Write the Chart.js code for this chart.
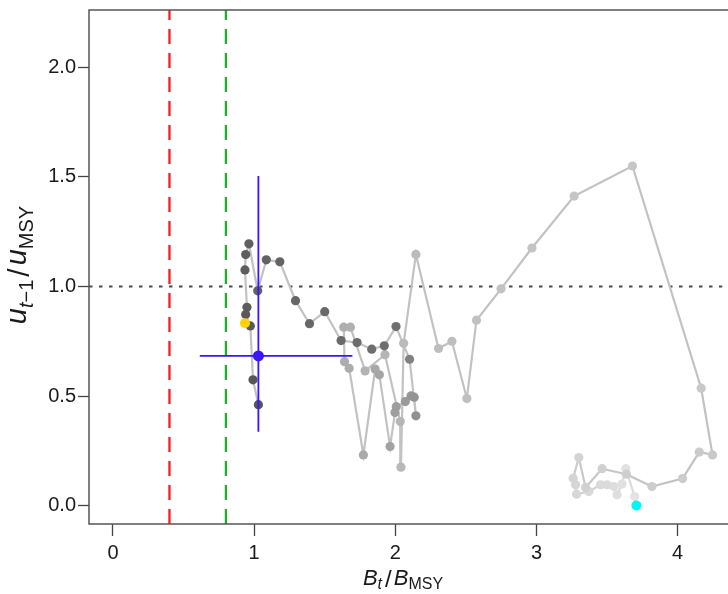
<!DOCTYPE html>
<html>
<head>
<meta charset="utf-8">
<script src="https://cdn.jsdelivr.net/npm/chart.js@4.4.0/dist/chart.umd.min.js"></script>
<style>
  html, body { margin:0; padding:0; background:#fff; overflow:hidden; }
  #wrap { width:728px; height:594px; }
</style>
</head>
<body>
<div id="wrap"><canvas id="kobe" width="728" height="594"></canvas></div>
<script>
// --- Trajectory (first year -> last year) ---
const bRatio = [
  3.708, 3.696, 3.633, 3.606, 3.571, 3.548, 3.500, 3.454, 3.371, 3.284,
  3.277, 3.260, 3.300, 3.348, 3.465, 3.637, 3.818, 4.035, 4.153, 4.247,
  4.167, 3.680, 3.267, 2.968, 2.749, 2.575, 2.507, 2.401, 2.306, 2.146,
  2.059, 2.040, 2.035, 1.927, 1.786, 1.682, 1.635, 1.640, 1.673, 1.774,
  1.857, 1.887, 1.963, 1.998, 2.007, 2.071, 2.111, 2.134, 2.146, 2.101,
  2.005, 1.922, 1.833, 1.729, 1.616, 1.500, 1.392, 1.293, 1.182, 1.086,
  1.025, 0.963, 0.940, 0.935, 0.949, 0.940, 0.973, 0.992, 1.030
];
const uRatio = [
  0.001, 0.042, 0.169, 0.099, 0.050, 0.088, 0.096, 0.096, 0.065, 0.053,
  0.096, 0.126, 0.220, 0.083, 0.169, 0.144, 0.088, 0.124, 0.245, 0.232,
  0.536, 1.549, 1.412, 1.175, 0.989, 0.846, 0.489, 0.750, 0.717, 1.146,
  0.741, 0.176, 0.384, 0.689, 0.615, 0.814, 0.814, 0.657, 0.627, 0.232,
  0.623, 0.597, 0.270, 0.425, 0.452, 0.475, 0.501, 0.495, 0.410, 0.668,
  0.817, 0.729, 0.714, 0.744, 0.753, 0.885, 0.830, 0.935, 1.112, 1.121,
  0.980, 1.194, 1.145, 1.075, 0.905, 0.872, 0.820, 0.574, 0.461
];

// first year (cyan) and final year (yellow) markers
const startPt = [3.708, 0.001];
const endPt = [0.935, 0.832];

// median with 95% intervals
const medB = 1.030, medU = 0.683;
const bInterval = [0.615, 1.696];
const uInterval = [0.337, 1.503];

// reference points: LRP (0.4 Bmsy), USR (0.8 Bmsy), u = umsy
const lrp = 0.4;
const usr = 0.8;
const uRef = 1.0;

const xTicks = [0, 1, 2, 3, 4];
const yTicks = [0, 0.5, 1, 1.5, 2];
const xLim = [-0.17, 4.318];
const yLim = [-0.083, 2.26];

// --- Styling helpers ---
const FONT = "'Liberation Sans', Arial, Helvetica, sans-serif";
const greyStops = [[0,228],[16,205],[30,186],[40,168],[48,145],[50,112],[68,86]];
function greyAt(i){
  for (let k=1; k<greyStops.length; k++){
    const [i1,g1] = greyStops[k], [i0,g0] = greyStops[k-1];
    if (i <= i1){ const t=(i-i0)/(i1-i0); return Math.round(g0 + t*(g1-g0)); }
  }
  return greyStops[greyStops.length-1][1];
}
const grey = g => `rgb(${g},${g},${g})`;
const pointCols = bRatio.map((_, i) => grey(greyAt(i)));
const segCol = i => grey(i < 16 ? Math.round(222 - (222-194)*i/16) : 194);

const trajectory = bRatio.map((b, i) => ({ x:b, y:uRatio[i] }));

function refLine(data, color, dash, width){
  return { type:'scatter', data, showLine:true, borderColor:color, borderWidth:width,
           borderDash:dash, pointRadius:0, pointHoverRadius:0, fill:false, tension:0 };
}

// --- Axis box + math titles ---
function drawRich(ctx, parts, cx, cy, rotate){
  ctx.save();
  ctx.translate(cx, cy);
  if (rotate) ctx.rotate(-Math.PI/2);
  let total = 0;
  parts.forEach(p => { ctx.font = p.font; p.w = ctx.measureText(p.t).width + (p.gap||0); total += p.w; });
  let x = -total/2;
  ctx.fillStyle = '#1a1a1a'; ctx.textAlign = 'left'; ctx.textBaseline = 'alphabetic';
  parts.forEach(p => { ctx.font = p.font; ctx.fillText(p.t, x, p.dy||0); x += p.w; });
  ctx.restore();
}

const framePlugin = {
  id:'frame',
  afterDraw(chart){
    const { ctx, chartArea:a } = chart;
    ctx.save();
    ctx.strokeStyle = '#555'; ctx.lineWidth = 1.5;
    ctx.beginPath();
    ctx.moveTo(chart.width + 5, a.top); ctx.lineTo(a.left, a.top);
    ctx.lineTo(a.left, a.bottom); ctx.lineTo(chart.width + 5, a.bottom);
    ctx.stroke();
    ctx.restore();

    const it = s => `italic ${s}px ${FONT}`, up = s => `${s}px ${FONT}`;
    drawRich(ctx, [
      { t:'B', font:it(22) },
      { t:'t', font:it(16), dy:4, gap:3 },
      { t:'/', font:up(24), dy:2, gap:2 },
      { t:'B', font:it(22) },
      { t:'MSY', font:up(16), dy:4 }
    ], 403, 585, false);
    drawRich(ctx, [
      { t:'u', font:it(29) },
      { t:'t', font:it(20), dy:7 },
      { t:'\u22121', font:up(20), dy:7, gap:3 },
      { t:'/', font:up(30), dy:3, gap:3 },
      { t:'u', font:it(29) },
      { t:'MSY', font:up(20), dy:7 }
    ], 26, 265, true);
  }
};

new Chart(document.getElementById('kobe'), {
  data: {
    datasets: [
      // blue median + intervals (on top)
      { type:'scatter', data:[{x:medB, y:medU}], pointRadius:5.5, pointBackgroundColor:'#3a14ff', pointBorderWidth:0 },
      refLine([{x:bInterval[0], y:medU},{x:bInterval[1], y:medU}], '#3a14ff', [], 1.8),
      refLine([{x:medB, y:uInterval[0]},{x:medB, y:uInterval[1]}], '#3a14ff', [], 1.8),
      // final year and first year markers
      { type:'scatter', data:[{x:endPt[0], y:endPt[1]}], pointRadius:5, pointBackgroundColor:'#ffd200', pointBorderWidth:0 },
      { type:'scatter', data:[{x:startPt[0], y:startPt[1]}], pointRadius:5, pointBackgroundColor:'#00f5f5', pointBorderWidth:0 },
      // trajectory
      { type:'scatter', data:trajectory, showLine:true, tension:0, borderWidth:2.2,
        borderColor:'#c2c2c2', segment:{ borderColor: c => segCol(c.p0DataIndex) },
        pointRadius:4.6, pointBackgroundColor:pointCols, pointBorderWidth:0, clip:false },
      // reference lines (underneath)
      refLine([{x:xLim[0], y:uRef},{x:xLim[1], y:uRef}], '#4a4a4a', [3.5, 6.5], 2),
      refLine([{x:lrp, y:yLim[0]},{x:lrp, y:yLim[1]}], '#ff1a1a', [15, 9], 2.3),
      refLine([{x:usr, y:yLim[0]},{x:usr, y:yLim[1]}], '#1faf2a', [15, 9], 2.3)
    ]
  },
  options: {
    responsive:false, animation:false, devicePixelRatio:1,
    layout:{ padding:{ top:10, right:0, left:0, bottom:0 } },
    plugins:{ legend:{ display:false }, tooltip:{ enabled:false } },
    scales:{
      x:{
        type:'linear', min:xLim[0], max:xLim[1],
        afterBuildTicks: s => { s.ticks = xTicks.map(v => ({ value:v })); },
        afterFit: s => { s.height = 70; s.paddingLeft = 0; s.paddingRight = 0; },
        grid:{ drawOnChartArea:false, drawTicks:true, tickLength:12, tickColor:'#444', tickWidth:1.3 },
        border:{ display:false },
        ticks:{ padding:5, color:'#1a1a1a', autoSkip:false, maxRotation:0,
                font:{ family:FONT, size:20 }, callback: v => String(v) }
      },
      y:{
        type:'linear', min:yLim[0], max:yLim[1],
        afterBuildTicks: s => { s.ticks = yTicks.map(v => ({ value:v })); },
        afterFit: s => { s.width = 89; s.paddingTop = 0; s.paddingBottom = 0; },
        grid:{ drawOnChartArea:false, drawTicks:true, tickLength:11, tickColor:'#444', tickWidth:1.3 },
        border:{ display:false },
        ticks:{ padding:2, color:'#1a1a1a', autoSkip:false,
                font:{ family:FONT, size:20 }, callback: v => Number(v).toFixed(1) }
      }
    }
  },
  plugins:[framePlugin]
});
</script>
</body>
</html>
